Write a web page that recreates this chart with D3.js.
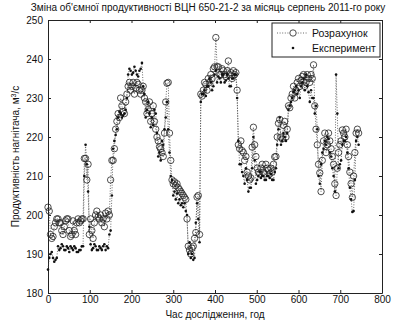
<!DOCTYPE html>
<html><head>
<meta charset="UTF-8">
<title>ВЦН 650-21-2</title>
<script src="https://d3js.org/d3.v7.min.js"></script>
<style>
  body { margin: 0; background: white; }
  text { font-family: "Liberation Sans", Arial, sans-serif; fill: #111; }
  .axis path, .axis line { stroke: #222; stroke-width: 1px; }
  .axis text { font-size: 10px; }
  .line { fill: none; stroke: #444; stroke-width: 0.8px; stroke-dasharray: 1,1.6; }
</style>
</head>
<body>
<script type="text/javascript">

// hours of the month, one sample every 3 hours (0 .. 744)
var hours = d3.range(0, 745, 3);

// Розрахунок, m3/s  (20 values per row = 60 hours)
var calcValues = [
  202, 201, 195, 194, 194.5, 197, 198, 199, 199, 198, 198, 196, 195, 197, 198.5, 199, 199, 196, 194.5, 195,
  198.5, 196, 195, 198, 199, 198, 198.5, 199, 199, 214.5, 214.5, 209, 213, 195, 199, 196, 194, 198, 200, 201,
  199.5, 199, 200, 198, 199, 197, 200.5, 199, 201, 200, 209, 214, 214, 217, 222, 224, 226, 225, 230, 228,
  226.5, 226, 229, 231, 233, 234, 232, 233, 234, 231, 232.5, 234, 233.5, 232, 231, 232, 233, 230, 229, 226,
  227, 229, 224, 226, 228, 224, 222, 220, 219, 217.5, 217, 216, 215, 221, 229, 233.8, 234, 221, 214, 209,
  208, 208.5, 207.5, 208, 207, 206.5, 206, 205.5, 205, 204.5, 204, 199, 192, 191, 190, 191.5, 192, 194, 195.5, 204.6,
  205, 195, 231, 230.5, 232, 234, 233.5, 232, 235, 234, 236, 235, 237.5, 238, 245.5, 238, 238, 236, 236, 237.5,
  237, 236, 235.5, 237, 239.5, 236, 236.5, 235, 237, 236, 236.5, 232, 218, 217, 219, 216.5, 216, 214, 215, 211,
  210, 209, 209.5, 217.4, 222.5, 218, 215, 212, 211, 210.5, 212, 213, 211, 210.5, 213, 212, 211.5, 210.5, 212, 211,
  213, 214.9, 215, 220, 223.5, 224.5, 220, 219.5, 223, 224, 220, 222, 228, 227.5, 230, 231, 233, 230, 232, 234,
  235, 233, 234.5, 235.5, 236, 233, 234, 236, 235, 234, 236, 235, 238.5, 228, 222, 218, 213, 210.8, 206, 214,
  219, 221, 216, 218, 221, 219, 217, 215, 213, 208, 205, 212, 216, 218, 219, 221.8, 221, 220, 222, 218,
  215, 211, 208, 204.5, 210, 216, 221, 222, 221
];

// Експеримент, m3/s
var expValues = [
  186, 189, 190, 190.5, 189, 188, 188.5, 189, 192, 191, 191.5, 192.5, 192, 191, 191, 192, 191.5, 190.5, 192, 191.5,
  191, 192, 191.5, 190.5, 190.5, 191, 191, 192, 192, 210, 218, 213, 206, 197, 192.5, 191, 191.5, 192.5, 192, 191,
  191, 192, 191.5, 191, 192, 192.5, 191, 192, 191.5, 195, 196, 205, 217, 219, 220.5, 222, 225, 226.5, 226, 225,
  225.5, 226, 227, 230, 236, 237.5, 237, 236, 236.5, 238, 237, 236, 235.5, 237, 237.5, 239, 233, 231, 225, 227,
  229, 226, 222.5, 225, 223, 227, 226, 221, 215, 216, 214, 219, 218, 222, 225, 229, 222, 216, 210, 209,
  205, 206, 204, 205.5, 203, 204, 202.5, 203, 202, 203, 201, 200, 190, 193, 189, 190, 188.5, 189, 198, 203,
  199, 193, 229, 231, 231, 232, 230.5, 233, 233, 235, 234, 232, 233, 236, 237, 234, 235.5, 235, 234, 236,
  236, 234, 234.5, 236, 235, 233, 233, 235, 235, 236, 236, 230, 219, 213, 213, 211, 210, 208, 212, 209,
  206, 207, 207, 212, 220, 214, 208, 209, 210, 211, 209.5, 210, 210, 209, 209, 210, 210, 209.5, 210.5, 209,
  209, 211, 212, 218, 222, 225, 218, 219, 221, 220, 219, 221, 227, 228, 229, 230, 231.5, 232, 233, 231,
  232, 230, 233, 234, 235, 232, 236, 233, 231.5, 229, 232, 230, 230, 226, 228, 222, 210, 208, 213, 216,
  217, 219, 218, 220, 219.5, 216, 215, 212, 210, 206, 236, 226, 212, 213, 214, 218, 219, 219, 220, 216,
  212, 207, 204, 200.8, 201, 209, 219, 220, 218
];

var xTicks = [0, 100, 200, 300, 400, 500, 600, 700, 800];
var yTicks = [180, 190, 200, 210, 220, 230, 240, 250];
var seriesNames = ["Розрахунок", "Експеримент"];

var margin = {top: 20, right: 12, bottom: 29, left: 48};
var width = 394 - margin.left - margin.right,
    height = 322 - margin.top - margin.bottom;

var root = d3.select("body").append("svg")
    .attr("width", 394)
    .attr("height", 322);

var svg = root.append("g")
    .attr("transform", "translate(" + margin.left + "," + margin.top + ")");

var xScale = d3.scaleLinear().domain([0, 800]).range([0, width]);
var yScale = d3.scaleLinear().domain([180, 250]).range([height, 0]);

// axes, matlab style: ticks inside, box on all four sides
svg.append("g").attr("class", "axis")
    .attr("transform", "translate(0," + height + ")")
    .call(d3.axisBottom(xScale).tickValues(xTicks).tickSizeInner(-3).tickSizeOuter(0).tickPadding(3));
svg.append("g").attr("class", "axis")
    .call(d3.axisLeft(yScale).tickValues(yTicks).tickSizeInner(-3).tickSizeOuter(0).tickPadding(5));
svg.append("g").attr("class", "axis")
    .call(d3.axisTop(xScale).tickValues(xTicks).tickSizeInner(-3).tickSizeOuter(0).tickFormat(""));
svg.append("g").attr("class", "axis")
    .attr("transform", "translate(" + width + ",0)")
    .call(d3.axisRight(yScale).tickValues(yTicks).tickSizeInner(-3).tickSizeOuter(0).tickFormat(""));

var calc = hours.map(function(h, i) { return [h, calcValues[i]]; });
var exp = hours.map(function(h, i) { return [h, expValues[i]]; });

var valueline = d3.line()
    .x(function(d) { return xScale(d[0]); })
    .y(function(d) { return yScale(d[1]); });

svg.append("path").datum(calc).attr("class", "line").attr("d", valueline);
svg.append("path").datum(exp).attr("class", "line").attr("d", valueline);

svg.selectAll(".calcpt").data(calc).enter().append("circle")
    .attr("class", "calcpt")
    .attr("cx", function(d) { return xScale(d[0]); })
    .attr("cy", function(d) { return yScale(d[1]); })
    .attr("r", 3.2)
    .attr("fill", "none")
    .attr("stroke", "#222")
    .attr("stroke-width", 0.8);

svg.selectAll(".exppt").data(exp).enter().append("circle")
    .attr("class", "exppt")
    .attr("cx", function(d) { return xScale(d[0]); })
    .attr("cy", function(d) { return yScale(d[1]); })
    .attr("r", 1.3)
    .attr("fill", "#111");

// legend
var legend = svg.append("g").attr("transform", "translate(" + (272 - margin.left) + "," + (23 - margin.top) + ")");
legend.append("rect")
    .attr("width", 108).attr("height", 34)
    .attr("fill", "white").attr("stroke", "#222").attr("stroke-width", 1);
legend.append("line").attr("class", "line")
    .attr("x1", 5).attr("x2", 36).attr("y1", 10).attr("y2", 10);
legend.append("circle").attr("cx", 21).attr("cy", 10).attr("r", 3.2)
    .attr("fill", "white").attr("stroke", "#222").attr("stroke-width", 0.8);
legend.append("circle").attr("cx", 21).attr("cy", 25).attr("r", 1.3).attr("fill", "#111");
legend.selectAll(".legtext").data(seriesNames).enter().append("text")
    .attr("x", 40)
    .attr("y", function(d, i) { return 14 + i * 15; })
    .style("font-size", "10.5px")
    .text(function(d) { return d; });

// title and axis labels
root.append("text")
    .attr("x", 208).attr("y", 11)
    .attr("text-anchor", "middle")
    .style("font-size", "10px")
    .text("Зміна об'ємної продуктивності ВЦН 650-21-2 за місяць серпень 2011-го року");

root.append("text")
    .attr("x", margin.left + width / 2).attr("y", 318)
    .attr("text-anchor", "middle")
    .style("font-size", "10px")
    .text("Час дослідження, год");

var ylab = root.append("text")
    .attr("transform", "translate(19," + (margin.top + height / 2) + ") rotate(-90)")
    .attr("text-anchor", "middle")
    .style("font-size", "10px");
ylab.append("tspan").text("Продуктивність нагнітача, м");
ylab.append("tspan").attr("dy", -3).style("font-size", "7px").text("3");
ylab.append("tspan").attr("dy", 3).text("/с");

</script>
</body>
</html>
